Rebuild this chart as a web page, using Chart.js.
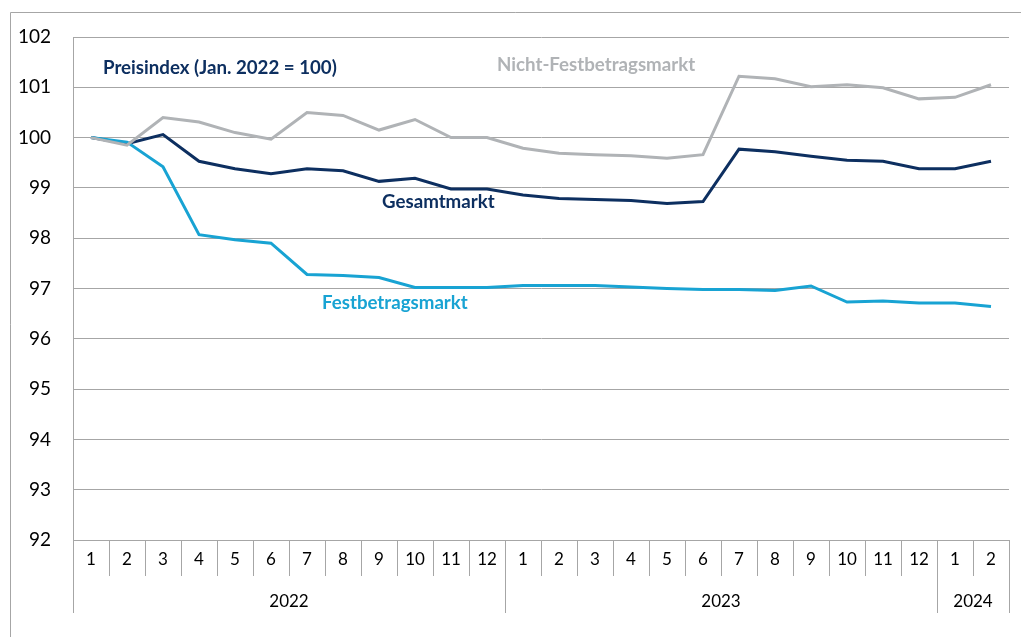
<!DOCTYPE html>
<html>
<head>
<meta charset="utf-8">
<script src="https://cdn.jsdelivr.net/npm/chart.js@4/dist/chart.umd.min.js"></script>
<style>
  html, body { margin: 0; padding: 0; background: #fff; }
  #wrap { width: 1021px; height: 637px; }
</style>
</head>
<body>
<div id="wrap"><canvas id="priceChart" width="1021" height="637"></canvas></div>
<script>
// Monate Jan. 2022 bis Feb. 2024
const months = ["1","2","3","4","5","6","7","8","9","10","11","12",
                "1","2","3","4","5","6","7","8","9","10","11","12",
                "1","2"];
const years = ["2022", "2023", "2024"];
const yearSizes = [12, 12, 2];

const gesamtmarkt = [100, 99.88, 100.06, 99.53, 99.38, 99.28, 99.38, 99.34, 99.13, 99.19, 98.98, 98.98,
                     98.86, 98.79, 98.77, 98.75, 98.69, 98.73, 99.77, 99.72, 99.63, 99.55, 99.53, 99.38,
                     99.38, 99.53];
const nichtFestbetrag = [100, 99.85, 100.40, 100.31, 100.10, 99.97, 100.50, 100.44, 100.15, 100.36, 100.0, 100.0,
                         99.79, 99.69, 99.66, 99.64, 99.59, 99.66, 101.22, 101.17, 101.01, 101.05, 100.99, 100.77,
                         100.80, 101.05];
const festbetrag = [100, 99.91, 99.42, 98.07, 97.97, 97.90, 97.28, 97.26, 97.22, 97.02, 97.02, 97.02,
                    97.06, 97.06, 97.06, 97.03, 97.00, 96.98, 96.98, 96.96, 97.05, 96.73, 96.75, 96.71,
                    96.71, 96.64];

const NAVY = "#0d2f60";
const LIGHTBLUE = "#18a3d3";
const GREY = "#b0b3b6";
const AXIS_GREY = "#a6a6a6";
const FONT = "Lato, Calibri, 'Open Sans', sans-serif";

const extras = {
    id: "extras",
    beforeDraw(chart) {
        const c = chart.ctx;
        c.save();
        c.strokeStyle = AXIS_GREY;
        c.lineWidth = 1;
        c.beginPath();
        c.moveTo(10.5, 637);
        c.lineTo(10.5, 12.5);
        c.lineTo(1021, 12.5);
        c.stroke();
        c.restore();
    },
    afterDraw(chart) {
        const c = chart.ctx;
        const x = chart.scales.x;
        const bottom = chart.chartArea.bottom;
        c.save();
        // Jahres-Trenner und Jahreszahlen
        c.strokeStyle = AXIS_GREY;
        c.lineWidth = 1;
        let start = 0;
        const edges = [-0.5];
        years.forEach((y, i) => {
            edges.push(start + yearSizes[i] - 0.5);
            start += yearSizes[i];
        });
        edges.forEach(e => {
            const px = Math.round(x.getPixelForValue(e)) + 0.5;
            c.beginPath();
            c.moveTo(px, bottom);
            c.lineTo(px, bottom + 73);
            c.stroke();
        });
        c.fillStyle = "#000";
        c.font = "17px " + FONT;
        c.textAlign = "center";
        c.textBaseline = "middle";
        start = 0;
        years.forEach((y, i) => {
            const mid = start + (yearSizes[i] - 1) / 2;
            c.fillText(y, x.getPixelForValue(mid), bottom + 62);
            start += yearSizes[i];
        });

        // Beschriftungen
        c.textAlign = "left";
        c.font = "bold 18.7px " + FONT;
        c.fillStyle = NAVY;
        c.fillText("Preisindex (Jan. 2022 = 100)", 103, 68);
        c.fillStyle = GREY;
        c.fillText("Nicht-Festbetragsmarkt", 497, 65);
        c.fillStyle = NAVY;
        c.fillText("Gesamtmarkt", 382, 202);
        c.fillStyle = LIGHTBLUE;
        c.fillText("Festbetragsmarkt", 322, 303);
        c.restore();
    }
};

const ctx = document.getElementById("priceChart").getContext("2d");
const chart = new Chart(ctx, {
    type: "line",
    data: {
        labels: months,
        datasets: [
            { label: "Nicht-Festbetragsmarkt", data: nichtFestbetrag, borderColor: GREY },
            { label: "Festbetragsmarkt", data: festbetrag, borderColor: LIGHTBLUE },
            { label: "Gesamtmarkt", data: gesamtmarkt, borderColor: NAVY }
        ]
    },
    options: {
        responsive: false,
        animation: false,
        layout: { padding: { top: 37, right: 12, left: 0, bottom: 0 } },
        elements: {
            point: { radius: 0 },
            line: { borderWidth: 3, tension: 0, fill: false }
        },
        plugins: {
            legend: { display: false },
            tooltip: { enabled: false }
        },
        scales: {
            x: {
                offset: true,
                afterFit(s) { s.height = 97; },
                grid: {
                    offset: true,
                    drawOnChartArea: false,
                    drawTicks: true,
                    tickLength: 36,
                    color: AXIS_GREY,
                    lineWidth: 1
                },
                border: { color: AXIS_GREY, width: 1 },
                ticks: {
                    color: "#000",
                    font: { family: FONT, size: 17 },
                    padding: -27,
                    maxRotation: 0,
                    autoSkip: false
                }
            },
            y: {
                min: 92,
                max: 102,
                afterFit(s) { s.width = 73; },
                grid: { color: AXIS_GREY, lineWidth: 1, drawTicks: false },
                border: { color: AXIS_GREY, width: 1 },
                ticks: {
                    stepSize: 1,
                    color: "#000",
                    font: { family: FONT, size: 19 },
                    padding: 22
                }
            }
        }
    },
    plugins: [extras]
});
</script>
</body>
</html>
